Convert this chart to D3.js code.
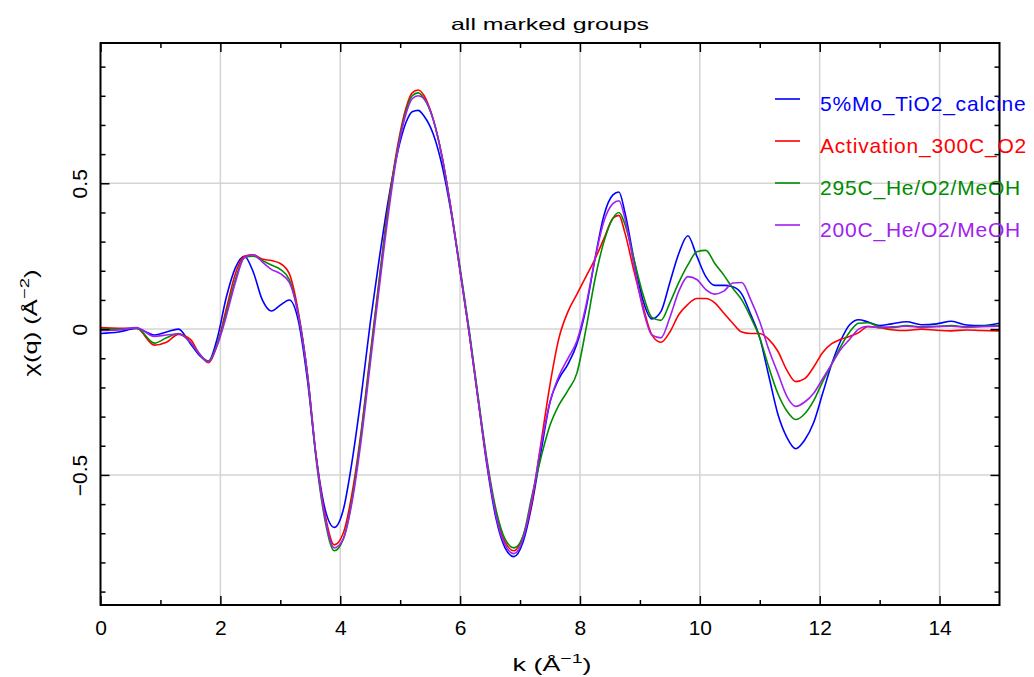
<!DOCTYPE html>
<html>
<head>
<meta charset="utf-8">
<script src="https://cdn.jsdelivr.net/npm/d3@7"></script>
<style>
  body { margin: 0; background: #ffffff; }
  svg text { font-family: "Liberation Sans", Arial, sans-serif; }
</style>
</head>
<body>
<div id="chartContainer"></div>
<script>
// k grid (1/Å) shared by every group
var kValues = [0, 0.3, 0.6, 0.9, 1.1, 1.3, 1.5, 1.65, 1.8, 1.95,
  2.1, 2.25, 2.4, 2.55, 2.7, 2.85, 3.0, 3.15, 3.3, 3.45,
  3.6, 3.75, 3.9, 4.05, 4.2, 4.35, 4.5, 4.65, 4.8, 4.95,
  5.1, 5.2, 5.3, 5.4, 5.55, 5.7, 5.85, 6.0, 6.15, 6.3,
  6.45, 6.6, 6.75, 6.9, 7.05, 7.2, 7.35, 7.5, 7.65, 7.8,
  7.95, 8.1, 8.25, 8.4, 8.55, 8.65, 8.75, 8.9, 9.05, 9.2,
  9.35, 9.5, 9.65, 9.8, 9.95, 10.1, 10.25, 10.4, 10.55, 10.7,
  10.85, 11.0, 11.15, 11.3, 11.45, 11.6, 11.75, 11.9, 12.05, 12.2,
  12.35, 12.5, 12.65, 12.8, 13.0, 13.2, 13.45, 13.7, 13.95, 14.2,
  14.45, 14.7, 15.0];

// chi(q) for each marked group
var calcine = [-0.015, -0.01, 0.002, -0.02, -0.01, 0.0, -0.05, -0.09, -0.11, -0.03,
  0.11, 0.21, 0.25, 0.195, 0.1, 0.062, 0.082, 0.1, 0.03, -0.17,
  -0.44, -0.62, -0.68, -0.62, -0.45, -0.23, 0.02, 0.24, 0.44, 0.6,
  0.71, 0.745, 0.75, 0.73, 0.67, 0.56, 0.4, 0.2, -0.01, -0.24,
  -0.47, -0.65, -0.75, -0.78, -0.73, -0.6, -0.42, -0.25, -0.17, -0.12,
  -0.05, 0.07, 0.24, 0.39, 0.46, 0.47, 0.4, 0.24, 0.1, 0.035,
  0.06, 0.16, 0.26, 0.32, 0.25, 0.18, 0.15, 0.15, 0.145, 0.12,
  0.05, -0.03, -0.16, -0.29, -0.37, -0.41, -0.38, -0.32, -0.22, -0.12,
  -0.04, 0.015, 0.032, 0.025, 0.012, 0.018, 0.025, 0.015, 0.018, 0.027,
  0.014, 0.012, 0.02];

var activation = [0.005, 0.003, 0.003, -0.055, -0.045, -0.018, -0.035, -0.085, -0.115, -0.05,
  0.07, 0.19, 0.25, 0.255, 0.24, 0.235, 0.225, 0.19, 0.06, -0.15,
  -0.44, -0.64, -0.74, -0.7, -0.56, -0.35, -0.09, 0.17, 0.42, 0.62,
  0.76, 0.81, 0.82, 0.8, 0.72, 0.59, 0.41, 0.2, -0.01, -0.24,
  -0.46, -0.63, -0.73, -0.76, -0.71, -0.59, -0.39, -0.19, -0.03, 0.06,
  0.12, 0.18, 0.24, 0.31, 0.38, 0.39, 0.33, 0.2, 0.08, -0.02,
  -0.045, -0.01, 0.05, 0.085, 0.105, 0.105, 0.09, 0.055, 0.02, -0.01,
  -0.015, -0.015, -0.035, -0.075, -0.14, -0.18, -0.17, -0.13, -0.08, -0.05,
  -0.035, -0.025, -0.012, 0.008, 0.005, -0.002, -0.005, 0.0, -0.004, -0.006,
  -0.003, -0.005, -0.006];

var he295 = [0.0, 0.0, 0.004, -0.048, -0.03, -0.015, -0.045, -0.085, -0.11, -0.05,
  0.055, 0.17, 0.245, 0.25, 0.235, 0.22, 0.205, 0.17, 0.05, -0.15,
  -0.45, -0.66, -0.76, -0.72, -0.58, -0.36, -0.1, 0.16, 0.41, 0.61,
  0.75, 0.8, 0.81, 0.79, 0.72, 0.59, 0.41, 0.21, 0.0, -0.23,
  -0.45, -0.62, -0.72, -0.75, -0.71, -0.57, -0.44, -0.33, -0.26, -0.21,
  -0.15, 0.0, 0.17, 0.3, 0.38, 0.4, 0.36, 0.24, 0.12, 0.04,
  0.03, 0.09, 0.16, 0.22, 0.265, 0.27, 0.225, 0.185, 0.14, 0.1,
  0.04, -0.03, -0.13, -0.22, -0.28, -0.31, -0.29, -0.245, -0.18, -0.12,
  -0.06, -0.01, 0.02, 0.022, 0.008, 0.005, 0.012, 0.008, 0.01, 0.012,
  0.008, 0.01, 0.012];

var he200 = [-0.005, -0.003, 0.005, -0.025, -0.02, -0.017, -0.045, -0.085, -0.113, -0.055,
  0.045, 0.16, 0.245, 0.255, 0.23, 0.205, 0.19, 0.16, 0.05, -0.15,
  -0.44, -0.65, -0.75, -0.72, -0.59, -0.38, -0.12, 0.14, 0.39, 0.6,
  0.74, 0.79, 0.8, 0.79, 0.72, 0.59, 0.41, 0.2, -0.01, -0.24,
  -0.46, -0.64, -0.74, -0.77, -0.72, -0.58, -0.4, -0.25, -0.16, -0.1,
  -0.04, 0.08, 0.24, 0.37, 0.43, 0.44, 0.38, 0.22, 0.07, -0.02,
  -0.03, 0.04, 0.13, 0.18, 0.17, 0.135, 0.12, 0.13, 0.158, 0.16,
  0.1, 0.025, -0.07, -0.15, -0.23, -0.265, -0.25, -0.22, -0.17, -0.12,
  -0.07, -0.035, 0.0, 0.01, 0.005, 0.008, 0.01, 0.006, 0.008, 0.01,
  0.006, 0.008, 0.01];

var seriesNames = ["5%Mo_TiO2_calcine", "Activation_300C_O2", "295C_He/O2/MeOH", "200C_He/O2/MeOH"];
var seriesColors = ["#0000ff", "#ff0000", "#008c00", "#a020f0"];

// ticks
var xMajorTicks = [0, 2, 4, 6, 8, 10, 12, 14];
var xMinorTicks = [1, 3, 5, 7, 9, 11, 13];
var yMajorTicks = [-0.5, 0, 0.5];
var yMinorTicks = [-0.9, -0.8, -0.7, -0.6, -0.4, -0.3, -0.2, -0.1, 0.1, 0.2, 0.3, 0.4, 0.6, 0.7, 0.8, 0.9];

// 表示領域 (plot frame in page pixels)
var W = 1034, H = 677;
var plotL = 100.5, plotR = 999.5, plotT = 43, plotB = 605;

var svg = d3.select("#chartContainer").append("svg")
  .attr("width", W)
  .attr("height", H)
  .style("display", "block");

svg.append("rect").attr("width", W).attr("height", H).attr("fill", "#ffffff");

var x = d3.scaleLinear().domain([0, 15]).range([plotL, plotR]);
var y = d3.scaleLinear().domain([-0.946, 0.981]).range([plotB, plotT]);

// grid
svg.append("g").selectAll("line")
  .data(xMajorTicks.filter(function(d) { return d > 0; }))
  .enter().append("line")
  .attr("x1", function(d) { return x(d); }).attr("x2", function(d) { return x(d); })
  .attr("y1", plotT).attr("y2", plotB)
  .attr("stroke", "#d4d4d4").attr("stroke-width", 1.5);

svg.append("g").selectAll("line")
  .data(yMajorTicks)
  .enter().append("line")
  .attr("x1", plotL).attr("x2", plotR)
  .attr("y1", function(d) { return y(d); }).attr("y2", function(d) { return y(d); })
  .attr("stroke", "#d4d4d4").attr("stroke-width", 1.5);

// curves
var line = d3.line()
  .x(function(d) { return x(d.k); })
  .y(function(d) { return y(d.v); })
  .curve(d3.curveMonotoneX);

var allSeries = [calcine, activation, he295, he200];
allSeries.forEach(function(vals, i) {
  var pts = kValues.map(function(k, j) { return {k: k, v: vals[j]}; });
  svg.append("path")
    .datum(pts)
    .attr("fill", "none")
    .attr("stroke", seriesColors[i])
    .attr("stroke-width", 1.6)
    .attr("d", line);
});

// axes (ticks point inward)
function styleAxis(g) {
  g.select(".domain").remove();
  g.selectAll(".tick line").attr("stroke", "#000").attr("stroke-width", 1.5);
  g.selectAll("text").attr("fill", "#000").style("font-size", "21px");
}

svg.append("g")
  .attr("transform", "translate(0," + plotB + ")")
  .call(d3.axisBottom(x).tickValues(xMajorTicks).tickSizeInner(-9).tickSizeOuter(0)
    .tickPadding(15).tickFormat(d3.format("d")))
  .call(styleAxis);
svg.append("g")
  .attr("transform", "translate(0," + plotB + ")")
  .call(d3.axisBottom(x).tickValues(xMinorTicks).tickSizeInner(-5).tickSizeOuter(0).tickFormat(""))
  .call(styleAxis);
svg.append("g")
  .attr("transform", "translate(0," + plotT + ")")
  .call(d3.axisTop(x).tickValues(xMajorTicks).tickSizeInner(-9).tickSizeOuter(0).tickFormat(""))
  .call(styleAxis);
svg.append("g")
  .attr("transform", "translate(0," + plotT + ")")
  .call(d3.axisTop(x).tickValues(xMinorTicks).tickSizeInner(-5).tickSizeOuter(0).tickFormat(""))
  .call(styleAxis);

var yAxisG = svg.append("g")
  .attr("transform", "translate(" + plotL + ",0)")
  .call(d3.axisLeft(y).tickValues(yMajorTicks).tickSizeInner(-9).tickSizeOuter(0)
    .tickFormat(function(d) { return d === 0 ? "0" : d3.format(".1f")(d); }))
  .call(styleAxis);
// y tick labels are written bottom-to-top
yAxisG.selectAll("text")
  .attr("x", 0).attr("dy", null)
  .attr("text-anchor", "middle")
  .attr("transform", "translate(-14,0) rotate(-90)");

svg.append("g")
  .attr("transform", "translate(" + plotL + ",0)")
  .call(d3.axisLeft(y).tickValues(yMinorTicks).tickSizeInner(-5).tickSizeOuter(0).tickFormat(""))
  .call(styleAxis);
svg.append("g")
  .attr("transform", "translate(" + plotR + ",0)")
  .call(d3.axisRight(y).tickValues(yMajorTicks).tickSizeInner(-9).tickSizeOuter(0).tickFormat(""))
  .call(styleAxis);
svg.append("g")
  .attr("transform", "translate(" + plotR + ",0)")
  .call(d3.axisRight(y).tickValues(yMinorTicks).tickSizeInner(-5).tickSizeOuter(0).tickFormat(""))
  .call(styleAxis);

// frame
svg.append("rect")
  .attr("x", plotL).attr("y", plotT)
  .attr("width", plotR - plotL).attr("height", plotB - plotT)
  .attr("fill", "none").attr("stroke", "#000").attr("stroke-width", 2);

// title
svg.append("text")
  .attr("x", 550).attr("y", 30)
  .attr("text-anchor", "middle")
  .attr("textLength", 198).attr("lengthAdjust", "spacingAndGlyphs")
  .style("font-size", "16.5px")
  .text("all marked groups");

// x label
var xl = svg.append("text")
  .attr("x", 552).attr("y", 671)
  .attr("text-anchor", "middle")
  .attr("textLength", 79).attr("lengthAdjust", "spacingAndGlyphs")
  .style("font-size", "18px");
xl.append("tspan").text("k (Å");
xl.append("tspan").attr("dy", -8).style("font-size", "13px").text("−1");
xl.append("tspan").attr("dy", 8).text(")");

// y label
var yl = svg.append("text")
  .attr("transform", "translate(37,323) rotate(-90)")
  .attr("text-anchor", "middle")
  .attr("textLength", 107).attr("lengthAdjust", "spacingAndGlyphs")
  .style("font-size", "18px");
yl.append("tspan").text("χ(q)  (Å");
yl.append("tspan").attr("dy", -8).style("font-size", "13px").text("−2");
yl.append("tspan").attr("dy", 8).text(")");

// legend
var legend = svg.append("g");
seriesNames.forEach(function(name, i) {
  var ly = 99 + i * 42;
  legend.append("line")
    .attr("x1", 775).attr("x2", 800)
    .attr("y1", ly).attr("y2", ly)
    .attr("stroke", seriesColors[i]).attr("stroke-width", 1.6);
  legend.append("text")
    .attr("x", 820).attr("y", ly + 12)
    .attr("fill", seriesColors[i])
    .style("font-size", "21px")
    .style("letter-spacing", "0.8px")
    .text(name);
});
</script>
</body>
</html>
